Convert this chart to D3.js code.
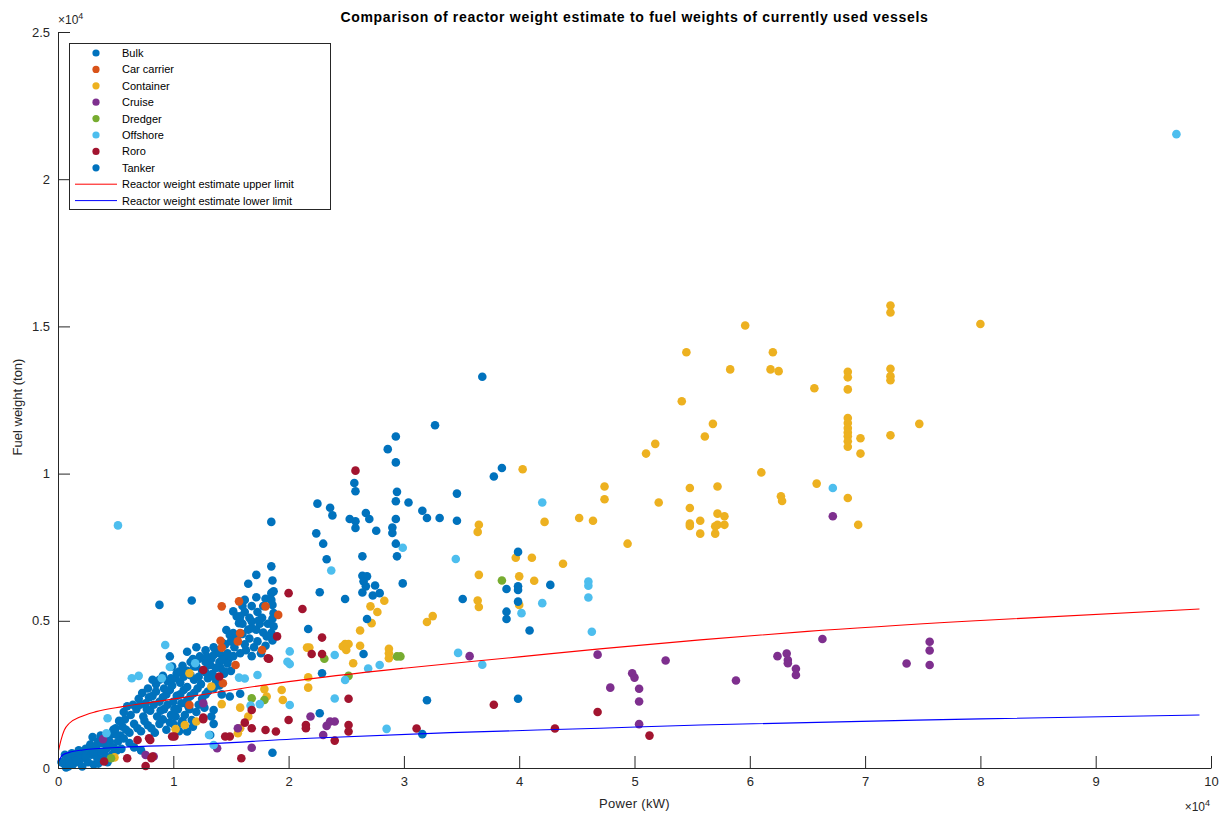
<!DOCTYPE html>
<html><head><meta charset="utf-8">
<script src="https://cdn.jsdelivr.net/npm/d3@7"></script>
<style>
body{margin:0;background:#fff;}
text{font-family:"Liberation Sans",Arial,Helvetica,sans-serif;fill:#262626;}
</style>
</head><body>
<svg id="chart" width="1226" height="814"></svg>
<script>
// Units: power in 10^4 kW, fuel weight in 10^4 ton (as on the axes, ×10^4)
const xTicks = [0,1,2,3,4,5,6,7,8,9,10];
const yTicks = [0,0.5,1,1.5,2,2.5];
const seriesNames = ["Bulk","Car carrier","Container","Cruise","Dredger","Offshore","Roro","Tanker"];
const seriesColors = ["#0072BD","#D95319","#EDB120","#7E2F8E","#77AC30","#4DBEEE","#A2142F","#0072BD"];

const bulk = [
[0.05,0.015],[0.09,0.005],[0.10,0.03],[0.13,0.012],[0.15,0.04],[0.18,0.02],[0.21,0.005],[0.22,0.035],[0.26,0.02],[0.29,0.045],[0.31,0.012],[0.34,0.035],[0.37,0.055],[0.06,0.045],
[0.08,0.025],[0.12,0.05],[0.16,0.025],[0.20,0.045],[0.24,0.04],[0.27,0.06],[0.31,0.055],[0.35,0.015],[0.39,0.025],[0.43,0.02],[0.44,0.08],[0.51,0.06],[0.54,0.11],[0.46,0.115],[0.41,0.10],[0.35,0.09],[0.07,0.002],[0.03,0.02],
[0.18,0.06],[0.24,0.065],[0.28,0.08],[0.33,0.075],[0.38,0.085],[0.42,0.065],[0.45,0.09],[0.48,0.07],[0.52,0.09],[0.55,0.065],[0.41,0.04],[0.47,0.045],[0.57,0.1],[0.62,0.085],[0.50,0.115],[0.37,0.11],[0.30,0.105],[0.66,0.07],[0.72,0.06],
[0.48,0.13],[0.56,0.14],[0.62,0.12],[0.66,0.15],[0.72,0.125],[0.78,0.145],[0.84,0.12],[0.88,0.15],[0.94,0.13],[1.00,0.15],[1.05,0.125],[0.58,0.165],[0.53,0.16],[0.50,0.135],
[0.59,0.13],[0.69,0.135],[0.75,0.16],[0.81,0.135],[0.91,0.165],[0.97,0.155],[1.02,0.175],[1.08,0.16],[1.14,0.20],
[0.57,0.19],[0.63,0.18],[0.68,0.2],[0.74,0.175],[0.80,0.195],[0.86,0.175],[0.92,0.2],[0.98,0.18],[1.04,0.2],[1.10,0.18],[1.20,0.19],[0.65,0.215],
[0.60,0.21],[0.71,0.215],[0.77,0.20],[0.83,0.215],[0.89,0.195],[0.95,0.215],[1.01,0.20],[1.07,0.22],[1.13,0.21],[1.22,0.215],[1.27,0.205],
[0.70,0.235],[0.76,0.22],[0.82,0.245],[0.88,0.225],[0.94,0.25],[1.00,0.225],[1.06,0.25],[1.12,0.23],[1.18,0.255],[1.25,0.235],[1.30,0.26],[1.42,0.25],
[0.73,0.255],[0.79,0.24],[0.85,0.26],[0.91,0.24],[0.97,0.265],[1.03,0.245],[1.09,0.265],[1.15,0.245],[1.21,0.27],[1.28,0.25],[1.35,0.27],[1.40,0.28],
[0.78,0.27],[0.85,0.285],[0.92,0.27],[0.99,0.28],[1.06,0.29],[1.12,0.275],[1.18,0.3],[1.24,0.285],[1.30,0.305],[1.37,0.29],[1.44,0.32],
[0.82,0.30],[0.88,0.30],[0.95,0.295],[1.02,0.305],[1.09,0.31],[1.15,0.315],[1.22,0.31],[1.28,0.325],[1.34,0.32],[1.41,0.34],[1.48,0.37],[1.40,0.36],
[1.12,0.33],[1.18,0.345],[1.25,0.33],[1.31,0.35],[1.37,0.34],[1.47,0.355],[1.50,0.33],[1.20,0.345],[1.32,0.35],[1.35,0.31],[1.45,0.328],
[1.15,0.36],[1.22,0.37],[1.28,0.36],[1.33,0.37],[1.38,0.40],[1.44,0.38],[1.52,0.38],[1.55,0.44],[1.50,0.43],[1.45,0.42],[1.35,0.41],[1.28,0.40],[1.20,0.41],
[1.12,0.395],[1.17,0.37],[1.47,0.39],[1.53,0.41],[1.58,0.39],[1.62,0.42],[1.66,0.44],[1.70,0.41],[1.60,0.455],[1.72,0.47],[1.78,0.46],[1.65,0.47],
[1.60,0.49],[1.68,0.475],[1.75,0.49],[1.63,0.40],[1.68,0.38],[1.73,0.43],[1.76,0.39],
[1.62,0.53],[1.68,0.55],[1.73,0.53],[1.78,0.55],[1.72,0.58],[1.77,0.51],[1.82,0.49],[1.66,0.51],[1.80,0.575],[1.60,0.55],
[1.72,0.656],[1.65,0.626],[1.85,0.685],[1.86,0.637],[1.85,0.594],[1.87,0.600],[1.85,0.571],[1.86,0.554],[1.87,0.526],[1.86,0.507],[1.87,0.481],[1.85,0.458],[1.86,0.433],
[1.68,0.498],[1.74,0.501],[1.58,0.498],[1.58,0.515],[1.52,0.532],[1.55,0.515],[1.46,0.469],[1.49,0.452],[1.52,0.458],[1.49,0.243],[1.58,0.252],[1.35,0.150],
[0.88,0.554],[1.16,0.569],[1.62,0.571],[1.57,0.492],[1.43,0.424],[1.81,0.447],[1.80,0.415],[0.97,0.379],[1.23,0.379],[1.29,0.379],[1.35,0.384],[1.40,0.390],[1.42,0.367],
[1.09,0.333],[1.03,0.322],[1.35,0.197],[1.33,0.175],[1.16,0.163],[1.17,0.140],[1.07,0.152],[1.12,0.124],[1.32,0.112],[0.99,0.345],[1.05,0.328],[1.08,0.347],[0.91,0.313],[0.98,0.305],
[1.86,0.052]
];
const carCarrier = [[1.42,0.549],[1.57,0.566],[1.80,0.549],[1.91,0.520],[1.58,0.458],[1.77,0.401],[1.54,0.350],[1.42,0.409],[1.43,0.288],[1.41,0.432],[1.56,0.430],[1.14,0.214]];
const container = [
[7.22,1.571],[7.22,1.547],[8.00,1.508],[5.96,1.503],[5.45,1.412],[6.20,1.412],[5.83,1.354],[6.18,1.354],[6.25,1.348],[6.85,1.346],[6.85,1.327],[7.22,1.356],[7.22,1.331],[7.22,1.317],[6.56,1.290],[6.85,1.286],[5.41,1.246],
[6.85,1.189],[6.85,1.172],[6.85,1.155],[6.85,1.140],[6.85,1.127],[6.85,1.110],[6.85,1.091],[6.96,1.120],[7.22,1.130],[7.47,1.169],[6.96,1.068],[5.68,1.169],[5.61,1.126],[5.18,1.101],[5.10,1.068],[6.10,1.004],
[4.74,0.956],[4.74,0.913],[5.48,0.951],[5.72,0.956],[5.21,0.902],[6.58,0.966],[6.85,0.917],[6.27,0.923],[6.28,0.907],[5.48,0.883],[5.72,0.864],[5.78,0.855],[5.57,0.840],[5.48,0.830],[5.48,0.822],[5.72,0.826],[5.78,0.826],[5.70,0.821],[5.57,0.796],[5.70,0.796],[4.94,0.762],[6.94,0.826],
[4.03,1.015],[4.52,0.849],[4.64,0.840],[4.22,0.836],[3.65,0.826],[3.64,0.802],[3.97,0.714],[4.11,0.714],[4.38,0.694],[3.65,0.656],[4.00,0.651],[4.13,0.636],[3.64,0.569],[3.65,0.547],[4.00,0.554],[3.20,0.496],[3.25,0.516],
[2.83,0.568],[2.71,0.549],[2.77,0.530],[2.72,0.492],[2.62,0.467],[2.16,0.409],[2.18,0.409],[2.49,0.421],[2.52,0.421],[2.47,0.413],[2.50,0.401],[2.62,0.415],[2.87,0.405],[2.87,0.390],[2.87,0.373],[2.56,0.356],
[2.17,0.308],[2.17,0.273],[1.79,0.268],[1.81,0.243],[1.94,0.265],[1.95,0.231],[1.58,0.205],[1.42,0.217],[1.65,0.175],[1.33,0.277],[1.58,0.135],[1.56,0.118],[1.20,0.158],[1.14,0.322],[1.02,0.132],[0.49,0.036],[1.10,0.146]
];
const cruise = [
[3.57,0.380],[4.68,0.385],[5.27,0.365],[4.98,0.322],[5.00,0.307],[4.79,0.273],[5.04,0.269],[5.04,0.226],[5.04,0.149],[5.88,0.297],[6.24,0.380],[6.32,0.389],[6.33,0.367],[6.33,0.356],[6.40,0.337],[6.40,0.316],[6.63,0.438],[7.36,0.355],[7.56,0.429],[7.56,0.399],[7.56,0.350],[6.72,0.855],
[2.19,0.175],[2.33,0.143],[2.36,0.158],[2.40,0.158],[2.30,0.112],[1.56,0.135],[1.68,0.069],[1.38,0.067],[0.83,0.039],[0.39,0.098],[0.76,0.044],[1.26,0.22]
];
const dredger = [[3.85,0.637],[2.97,0.379],[2.31,0.371],[2.94,0.379],[1.68,0.237],[1.79,0.231],[2.52,0.313],[0.46,0.033]];
const offshore = [
[9.70,2.153],[0.52,0.824],[6.72,0.951],[4.20,0.902],[2.99,0.748],[3.45,0.710],[4.60,0.633],[4.60,0.619],[4.60,0.579],[4.20,0.560],[4.02,0.526],[4.63,0.463],[3.47,0.391],[3.68,0.351],
[2.37,0.671],[2.01,0.396],[1.99,0.361],[2.01,0.353],[2.40,0.384],[2.69,0.338],[2.79,0.350],[2.49,0.299],[1.57,0.307],[1.62,0.304],[1.73,0.316],[2.40,0.236],[2.01,0.214],[1.75,0.217],[1.67,0.212],[2.85,0.133],[1.31,0.112],[1.35,0.078],
[0.93,0.418],[0.70,0.313],[0.64,0.305],[0.97,0.343],[0.43,0.169],[0.42,0.118],[1.19,0.356],[0.90,0.305]
];
const roro = [
[2.58,1.010],[3.78,0.215],[4.68,0.190],[4.31,0.134],[5.13,0.110],[3.11,0.134],[2.00,0.594],[2.12,0.540],[2.29,0.443],[2.20,0.387],[2.29,0.387],[1.83,0.371],[2.52,0.235],[2.00,0.163],[2.15,0.146],[2.15,0.135],[2.52,0.146],[2.52,0.124],[2.40,0.093],
[1.68,0.197],[1.68,0.135],[1.80,0.129],[1.89,0.124],[1.62,0.154],[1.49,0.107],[1.26,0.171],[1.59,0.033],[1.90,0.447],[1.82,0.373],[1.26,0.333],[1.40,0.311],[1.45,0.107],[1.01,0.107],[1.26,0.166],
[0.82,0.039],[0.80,0.095],[0.79,0.101],[0.69,0.095],[0.99,0.107],[0.40,0.022],[0.60,0.033],[0.81,0.033],[0.76,0.007]
];
const tanker = [
[3.68,1.329],[3.27,1.164],[2.93,1.126],[2.86,1.083],[2.93,1.038],[3.78,0.990],[3.85,1.019],[3.46,0.932],[3.04,0.902],[3.16,0.874],[3.20,0.849],[3.31,0.849],[3.46,0.840],[2.99,0.627],[3.99,0.734],[3.89,0.608],[3.99,0.617],[3.99,0.605],[4.27,0.622],[3.51,0.574],[3.99,0.565],[3.89,0.531],[3.89,0.506],[4.09,0.467],[3.20,0.230],[3.99,0.235],[3.16,0.115],
[2.57,0.968],[2.58,0.940],[2.94,0.938],[2.93,0.906],[2.25,0.898],[2.36,0.884],[2.38,0.858],[2.53,0.846],[2.58,0.838],[2.58,0.815],[2.67,0.866],[2.70,0.846],[2.76,0.806],[2.93,0.846],[2.90,0.817],[2.90,0.798],[2.93,0.762],[2.94,0.719],
[1.85,0.836],[2.24,0.797],[2.30,0.762],[2.33,0.709],[2.64,0.719],[2.64,0.653],[2.68,0.651],[2.65,0.634],[2.67,0.617],[2.64,0.596],[2.75,0.620],[2.73,0.586],[2.79,0.594],[2.27,0.597],[2.49,0.574],[2.68,0.506],[2.65,0.387],[2.29,0.322],[2.27,0.186],[2.17,0.472]
];
// Reactor weight estimate curves
const upperLimit = [[0.005,0.06],[0.026,0.095],[0.055,0.129],[0.098,0.152],[0.185,0.172],[0.33,0.1915],[0.56,0.2085],[0.85,0.2255],[1.095,0.240],[2.0,0.2935],[3.0,0.339],[4.0,0.3775],[4.7,0.4047],[5.57,0.4353],[6.5,0.464],[8.0,0.501],[9.9,0.540]];
const lowerLimit = [[0.005,0.0215],[0.04,0.044],[0.098,0.053],[0.214,0.0612],[0.56,0.0704],[1.095,0.0782],[2.186,0.101],[3.4,0.120],[4.7,0.135],[5.568,0.1462],[8.0,0.1667],[9.9,0.180]];

const seriesData = [bulk, carCarrier, container, cruise, dredger, offshore, roro, tanker];

const svg = d3.select("#chart");
const X0=58, X1=1211, Y0=768, Y1=32;
const x = d3.scaleLinear().domain([0,10]).range([X0,X1]);
const y = d3.scaleLinear().domain([0,2.5]).range([Y0,Y1]);
const ink = "#262626";

// scatter
seriesData.forEach((arr,i)=>{
  svg.append("g").selectAll("circle").data(arr).join("circle")
    .attr("cx",d=>x(d[0])).attr("cy",d=>y(d[1])).attr("r",4.3)
    .attr("fill",seriesColors[i]);
});

// curves
const line = d3.line().x(d=>x(d[0])).y(d=>y(d[1])).curve(d3.curveMonotoneX);
svg.append("path").datum(upperLimit).attr("d",line).attr("fill","none").attr("stroke","#ff0000").attr("stroke-width",1.1);
svg.append("path").datum(lowerLimit).attr("d",line).attr("fill","none").attr("stroke","#0000ff").attr("stroke-width",1.1);

// axes
const xAxis = svg.append("g").attr("transform",`translate(0,${Y0})`)
  .call(d3.axisBottom(x).tickValues(xTicks).tickFormat(d=>String(d)).tickSize(-12).tickSizeOuter(0).tickPadding(9));
const yAxis = svg.append("g").attr("transform",`translate(${X0},0)`)
  .call(d3.axisLeft(y).tickValues(yTicks).tickFormat(d=>String(d)).tickSize(-12).tickSizeOuter(0).tickPadding(8));
[xAxis,yAxis].forEach(g=>{
  g.selectAll("path,line").attr("stroke",ink).attr("stroke-width",1);
  g.selectAll("text").attr("fill",ink).style("font-size","13px").style("font-family",'"Liberation Sans",Arial,sans-serif');
});

// exponent labels
const e1 = svg.append("text").attr("x",58).attr("y",24).style("font-size","12px");
e1.append("tspan").text("×10");
e1.append("tspan").attr("dy",-5).style("font-size","9px").text("4");
const e2 = svg.append("text").attr("x",1210).attr("y",811).attr("text-anchor","end").style("font-size","12px");
e2.append("tspan").text("×10");
e2.append("tspan").attr("dy",-5).style("font-size","9px").text("4");

// titles
svg.append("text").attr("x",(X0+X1)/2).attr("y",22).attr("text-anchor","middle")
  .style("font-size","14px").style("font-weight","bold").style("letter-spacing","0.7px").style("fill","#000")
  .text("Comparison of reactor weight estimate to fuel weights of currently used vessels");
svg.append("text").attr("x",(X0+X1)/2).attr("y",808).attr("text-anchor","middle")
  .style("font-size","13px").style("letter-spacing","0.3px").text("Power (kW)");
svg.append("text").attr("transform",`translate(22,${(Y0+Y1)/2+7}) rotate(-90)`).attr("text-anchor","middle")
  .style("font-size","13px").text("Fuel weight (ton)");

// legend
const lg = svg.append("g");
lg.append("rect").attr("x",69.5).attr("y",43.5).attr("width",261).attr("height",166)
  .attr("fill","#fff").attr("stroke",ink).attr("stroke-width",1);
const legendItems = seriesNames.map((n,i)=>({name:n,color:seriesColors[i],type:"dot"}))
  .concat([{name:"Reactor weight estimate upper limit",color:"#ff0000",type:"line"},
           {name:"Reactor weight estimate lower limit",color:"#0000ff",type:"line"}]);
legendItems.forEach((it,i)=>{
  const cy = 53 + i*16.4;
  if(it.type==="dot"){
    lg.append("circle").attr("cx",96).attr("cy",cy).attr("r",3.6).attr("fill",it.color);
  } else {
    lg.append("line").attr("x1",75).attr("x2",117).attr("y1",cy).attr("y2",cy).attr("stroke",it.color).attr("stroke-width",1);
  }
  lg.append("text").attr("x",122).attr("y",cy+4).style("font-size","11px").style("fill","#000").text(it.name);
});
</script>
</body></html>
